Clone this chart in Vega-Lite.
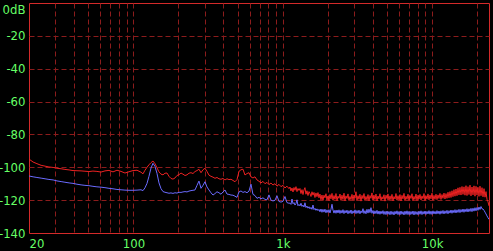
{
  "$schema": "https://vega.github.io/schema/vega-lite/v6.json",
  "width": 460,
  "height": 230,
  "autosize": {"type": "none"},
  "padding": {"left": 29, "top": 3, "right": 4, "bottom": 18},
  "background": "#000000",
  "config": {
    "view": {"stroke": "#d42a2a", "strokeWidth": 1},
    "axis": {
      "domain": false,
      "ticks": false,
      "labelColor": "#66ff66",
      "labelFont": "DejaVu Sans Condensed, sans-serif",
      "labelFontSize": 13,
      "gridColor": "#8c1c1c",
      "gridDash": [5, 3],
      "gridWidth": 1,
      "title": null
    }
  },
  "data": {
    "values": [
      {"f": 20, "r": -95.0, "b": -105.3},
      {"f": 21.3, "r": -96.8, "b": -105.8},
      {"f": 22.6, "r": -97.8, "b": -106.2},
      {"f": 24.1, "r": -98.8, "b": -106.6},
      {"f": 25.6, "r": -99.3, "b": -107.0},
      {"f": 27.2, "r": -99.8, "b": -107.4},
      {"f": 29.0, "r": -100.1, "b": -107.7},
      {"f": 30.8, "r": -100.6, "b": -108.3},
      {"f": 32.8, "r": -100.9, "b": -108.7},
      {"f": 34.8, "r": -101.3, "b": -109.1},
      {"f": 37.1, "r": -101.6, "b": -109.5},
      {"f": 39.4, "r": -102.0, "b": -109.8},
      {"f": 41.9, "r": -102.1, "b": -110.3},
      {"f": 44.6, "r": -102.2, "b": -110.7},
      {"f": 47.4, "r": -102.4, "b": -111.0},
      {"f": 50.4, "r": -102.6, "b": -111.2},
      {"f": 53.6, "r": -102.3, "b": -111.6},
      {"f": 57.0, "r": -102.5, "b": -111.9},
      {"f": 60.7, "r": -102.9, "b": -112.1},
      {"f": 64.5, "r": -102.2, "b": -112.4},
      {"f": 68.6, "r": -101.9, "b": -112.8},
      {"f": 73.0, "r": -102.8, "b": -113.1},
      {"f": 77.6, "r": -101.8, "b": -113.5},
      {"f": 82.6, "r": -102.5, "b": -113.7},
      {"f": 87.8, "r": -103.5, "b": -113.9},
      {"f": 93.4, "r": -102.7, "b": -114.0},
      {"f": 99.4, "r": -102.0, "b": -114.0},
      {"f": 105.7, "r": -101.8, "b": -113.9},
      {"f": 112.4, "r": -103.0, "b": -113.7},
      {"f": 115.9, "r": -104.0, "b": -114.2},
      {"f": 119.5, "r": -101.8, "b": -112.5},
      {"f": 123.3, "r": -100.0, "b": -109.8},
      {"f": 127.1, "r": -98.5, "b": -105.5},
      {"f": 131.1, "r": -97.2, "b": -100.5},
      {"f": 135.2, "r": -96.2, "b": -97.6},
      {"f": 139.5, "r": -97.8, "b": -99.5},
      {"f": 143.8, "r": -100.3, "b": -103.7},
      {"f": 148.3, "r": -102.8, "b": -109.5},
      {"f": 153.0, "r": -104.2, "b": -113.0},
      {"f": 157.8, "r": -104.6, "b": -114.8},
      {"f": 162.7, "r": -103.6, "b": -115.2},
      {"f": 167.8, "r": -103.5, "b": -115.5},
      {"f": 173.0, "r": -105.5, "b": -115.8},
      {"f": 178.5, "r": -106.8, "b": -115.6},
      {"f": 184.0, "r": -107.2, "b": -115.9},
      {"f": 189.8, "r": -106.5, "b": -115.5},
      {"f": 195.7, "r": -105.0, "b": -115.7},
      {"f": 201.9, "r": -104.5, "b": -115.2},
      {"f": 208.2, "r": -103.5, "b": -115.3},
      {"f": 214.7, "r": -104.2, "b": -115.0},
      {"f": 221.4, "r": -105.0, "b": -114.8},
      {"f": 228.4, "r": -104.6, "b": -115.0},
      {"f": 235.5, "r": -103.6, "b": -114.5},
      {"f": 242.9, "r": -103.3, "b": -114.2},
      {"f": 250.5, "r": -103.8, "b": -114.0},
      {"f": 258.3, "r": -102.6, "b": -113.8},
      {"f": 266.4, "r": -102.0, "b": -111.0},
      {"f": 274.7, "r": -101.2, "b": -108.4},
      {"f": 283.4, "r": -103.3, "b": -112.8},
      {"f": 292.2, "r": -101.5, "b": -111.0},
      {"f": 301.3, "r": -100.6, "b": -108.8},
      {"f": 310.8, "r": -102.5, "b": -112.0},
      {"f": 320.5, "r": -104.8, "b": -113.8},
      {"f": 330.5, "r": -105.5, "b": -115.5},
      {"f": 340.9, "r": -106.0, "b": -116.9},
      {"f": 351.6, "r": -106.7, "b": -116.0},
      {"f": 362.6, "r": -106.2, "b": -114.9},
      {"f": 373.9, "r": -107.0, "b": -115.5},
      {"f": 385.6, "r": -107.3, "b": -116.4},
      {"f": 397.7, "r": -106.8, "b": -115.0},
      {"f": 410.1, "r": -107.7, "b": -113.8},
      {"f": 423.0, "r": -107.0, "b": -116.3},
      {"f": 436.2, "r": -107.5, "b": -116.5},
      {"f": 449.9, "r": -107.3, "b": -116.9},
      {"f": 463.9, "r": -108.0, "b": -117.0},
      {"f": 478.5, "r": -108.8, "b": -117.6},
      {"f": 493.5, "r": -107.5, "b": -118.3},
      {"f": 508.9, "r": -102.5, "b": -115.0},
      {"f": 524.8, "r": -101.5, "b": -114.4},
      {"f": 541.3, "r": -101.2, "b": -115.3},
      {"f": 558.2, "r": -104.7, "b": -114.8},
      {"f": 575.7, "r": -103.8, "b": -115.5},
      {"f": 593.7, "r": -103.3, "b": -114.5},
      {"f": 612.3, "r": -105.8, "b": -110.3},
      {"f": 631.4, "r": -106.5, "b": -116.5},
      {"f": 651.2, "r": -105.8, "b": -117.2},
      {"f": 671.6, "r": -107.7, "b": -118.9},
      {"f": 692.6, "r": -108.5, "b": -118.3},
      {"f": 714.3, "r": -109.5, "b": -119.2},
      {"f": 736.6, "r": -108.6, "b": -118.6},
      {"f": 759.7, "r": -110.0, "b": -119.5},
      {"f": 783.5, "r": -109.2, "b": -119.8},
      {"f": 808.0, "r": -110.5, "b": -116.8},
      {"f": 833.3, "r": -109.6, "b": -120.0},
      {"f": 859.4, "r": -110.8, "b": -120.5},
      {"f": 886.3, "r": -110.0, "b": -120.1},
      {"f": 914.2, "r": -111.5, "b": -117.3},
      {"f": 942.6, "r": -110.4, "b": -120.8},
      {"f": 972.1, "r": -111.8, "b": -121.2},
      {"f": 1002.6, "r": -111.0, "b": -120.7},
      {"f": 1034, "r": -112.6, "b": -117.8},
      {"f": 1066, "r": -111.5, "b": -121.5},
      {"f": 1100, "r": -113.0, "b": -121.9},
      {"f": 1117, "r": -112.0, "b": -121.8},
      {"f": 1134, "r": -114.4, "b": -122.6},
      {"f": 1152, "r": -112.6, "b": -119.3},
      {"f": 1170, "r": -115.0, "b": -122.2},
      {"f": 1188, "r": -112.3, "b": -121.5},
      {"f": 1206, "r": -114.0, "b": -123.0},
      {"f": 1225, "r": -111.8, "b": -122.1},
      {"f": 1244, "r": -114.8, "b": -119.8},
      {"f": 1263, "r": -112.9, "b": -123.4},
      {"f": 1283, "r": -114.1, "b": -122.6},
      {"f": 1303, "r": -112.9, "b": -123.5},
      {"f": 1323, "r": -116.0, "b": -121.9},
      {"f": 1344, "r": -113.6, "b": -123.8},
      {"f": 1365, "r": -116.6, "b": -123.0},
      {"f": 1386, "r": -113.8, "b": -124.2},
      {"f": 1407, "r": -112.4, "b": -121.6},
      {"f": 1429, "r": -116.4, "b": -124.5},
      {"f": 1451, "r": -114.3, "b": -123.6},
      {"f": 1474, "r": -117.2, "b": -124.9},
      {"f": 1497, "r": -114.8, "b": -124.0},
      {"f": 1520, "r": -116.0, "b": -125.3},
      {"f": 1544, "r": -117.8, "b": -124.4},
      {"f": 1568, "r": -114.9, "b": -125.6},
      {"f": 1592, "r": -117.0, "b": -123.0},
      {"f": 1617, "r": -115.3, "b": -125.8},
      {"f": 1642, "r": -118.4, "b": -125.0},
      {"f": 1667, "r": -115.6, "b": -126.2},
      {"f": 1693, "r": -117.9, "b": -125.3},
      {"f": 1719, "r": -115.4, "b": -126.4},
      {"f": 1746, "r": -118.6, "b": -125.6},
      {"f": 1773, "r": -116.3, "b": -127.1},
      {"f": 1801, "r": -119.8, "b": -125.4},
      {"f": 1829, "r": -116.9, "b": -127.4},
      {"f": 1857, "r": -120.2, "b": -125.6},
      {"f": 1886, "r": -117.0, "b": -127.3},
      {"f": 1915, "r": -118.6, "b": -125.5},
      {"f": 1945, "r": -116.1, "b": -127.7},
      {"f": 1975, "r": -119.9, "b": -125.9},
      {"f": 2006, "r": -117.5, "b": -127.5},
      {"f": 2037, "r": -120.3, "b": -125.8},
      {"f": 2069, "r": -116.6, "b": -127.8},
      {"f": 2101, "r": -119.2, "b": -125.6},
      {"f": 2134, "r": -115.9, "b": -122.5},
      {"f": 2167, "r": -120.0, "b": -126.0},
      {"f": 2201, "r": -117.2, "b": -127.9},
      {"f": 2235, "r": -119.5, "b": -126.1},
      {"f": 2270, "r": -116.0, "b": -128.0},
      {"f": 2305, "r": -120.4, "b": -126.0},
      {"f": 2341, "r": -117.6, "b": -127.8},
      {"f": 2377, "r": -118.9, "b": -125.9},
      {"f": 2414, "r": -116.3, "b": -128.1},
      {"f": 2451, "r": -120.1, "b": -126.2},
      {"f": 2489, "r": -117.0, "b": -127.9},
      {"f": 2528, "r": -119.6, "b": -125.8},
      {"f": 2567, "r": -115.8, "b": -128.2},
      {"f": 2607, "r": -120.5, "b": -126.3},
      {"f": 2647, "r": -117.4, "b": -127.8},
      {"f": 2689, "r": -119.0, "b": -126.1},
      {"f": 2731, "r": -116.2, "b": -128.3},
      {"f": 2773, "r": -120.2, "b": -126.4},
      {"f": 2816, "r": -117.8, "b": -128.0},
      {"f": 2860, "r": -119.7, "b": -126.0},
      {"f": 2904, "r": -116.5, "b": -128.3},
      {"f": 2949, "r": -120.0, "b": -126.5},
      {"f": 2995, "r": -116.9, "b": -127.9},
      {"f": 3042, "r": -118.8, "b": -125.9},
      {"f": 3089, "r": -114.9, "b": -128.2},
      {"f": 3137, "r": -120.3, "b": -126.3},
      {"f": 3186, "r": -117.3, "b": -128.0},
      {"f": 3235, "r": -119.5, "b": -126.1},
      {"f": 3285, "r": -116.4, "b": -128.3},
      {"f": 3336, "r": -120.6, "b": -126.5},
      {"f": 3388, "r": -117.1, "b": -127.7},
      {"f": 3441, "r": -119.1, "b": -125.2},
      {"f": 3494, "r": -116.0, "b": -128.1},
      {"f": 3548, "r": -120.2, "b": -126.4},
      {"f": 3603, "r": -117.7, "b": -128.3},
      {"f": 3660, "r": -119.8, "b": -125.6},
      {"f": 3717, "r": -116.6, "b": -127.9},
      {"f": 3774, "r": -120.4, "b": -125.5},
      {"f": 3833, "r": -117.2, "b": -127.6},
      {"f": 3892, "r": -118.9, "b": -124.6},
      {"f": 3952, "r": -115.6, "b": -128.0},
      {"f": 4014, "r": -120.1, "b": -126.3},
      {"f": 4076, "r": -117.0, "b": -128.4},
      {"f": 4140, "r": -119.6, "b": -126.5},
      {"f": 4204, "r": -116.3, "b": -128.2},
      {"f": 4270, "r": -120.5, "b": -126.2},
      {"f": 4336, "r": -117.5, "b": -128.5},
      {"f": 4403, "r": -119.2, "b": -126.6},
      {"f": 4471, "r": -116.1, "b": -128.6},
      {"f": 4541, "r": -120.3, "b": -126.7},
      {"f": 4611, "r": -117.9, "b": -128.3},
      {"f": 4683, "r": -119.4, "b": -126.4},
      {"f": 4756, "r": -116.7, "b": -128.7},
      {"f": 4830, "r": -120.6, "b": -126.8},
      {"f": 4905, "r": -117.0, "b": -128.8},
      {"f": 4981, "r": -119.0, "b": -126.6},
      {"f": 5058, "r": -116.2, "b": -128.6},
      {"f": 5137, "r": -120.2, "b": -126.9},
      {"f": 5217, "r": -117.4, "b": -128.9},
      {"f": 5298, "r": -119.7, "b": -126.7},
      {"f": 5380, "r": -116.5, "b": -128.7},
      {"f": 5464, "r": -120.4, "b": -127.0},
      {"f": 5549, "r": -117.8, "b": -129.0},
      {"f": 5635, "r": -119.3, "b": -126.8},
      {"f": 5722, "r": -116.0, "b": -128.5},
      {"f": 5811, "r": -120.0, "b": -126.5},
      {"f": 5902, "r": -117.3, "b": -128.8},
      {"f": 5993, "r": -119.8, "b": -126.9},
      {"f": 6086, "r": -116.6, "b": -128.9},
      {"f": 6181, "r": -120.5, "b": -126.6},
      {"f": 6277, "r": -117.1, "b": -128.6},
      {"f": 6374, "r": -119.2, "b": -127.0},
      {"f": 6473, "r": -115.9, "b": -129.0},
      {"f": 6574, "r": -120.3, "b": -126.7},
      {"f": 6676, "r": -117.6, "b": -128.7},
      {"f": 6780, "r": -119.5, "b": -126.5},
      {"f": 6885, "r": -116.4, "b": -128.8},
      {"f": 6992, "r": -120.1, "b": -126.8},
      {"f": 7101, "r": -117.2, "b": -128.9},
      {"f": 7211, "r": -119.0, "b": -126.9},
      {"f": 7323, "r": -116.1, "b": -128.6},
      {"f": 7437, "r": -120.4, "b": -126.6},
      {"f": 7553, "r": -117.7, "b": -129.0},
      {"f": 7670, "r": -119.6, "b": -126.8},
      {"f": 7789, "r": -116.3, "b": -128.7},
      {"f": 7910, "r": -120.2, "b": -127.0},
      {"f": 8033, "r": -117.0, "b": -128.9},
      {"f": 8158, "r": -119.3, "b": -126.7},
      {"f": 8285, "r": -116.5, "b": -128.6},
      {"f": 8413, "r": -119.9, "b": -126.5},
      {"f": 8544, "r": -117.4, "b": -128.8},
      {"f": 8677, "r": -119.1, "b": -126.9},
      {"f": 8812, "r": -116.0, "b": -128.5},
      {"f": 8948, "r": -120.3, "b": -126.6},
      {"f": 9087, "r": -117.3, "b": -128.7},
      {"f": 9229, "r": -119.4, "b": -126.8},
      {"f": 9372, "r": -116.2, "b": -128.4},
      {"f": 9518, "r": -119.8, "b": -126.4},
      {"f": 9666, "r": -116.9, "b": -128.6},
      {"f": 9816, "r": -119.2, "b": -126.7},
      {"f": 9968, "r": -115.8, "b": -128.7},
      {"f": 10123, "r": -120.0, "b": -126.5},
      {"f": 10280, "r": -117.1, "b": -128.4},
      {"f": 10440, "r": -119.5, "b": -126.8},
      {"f": 10602, "r": -116.4, "b": -128.5},
      {"f": 10767, "r": -119.7, "b": -126.4},
      {"f": 10934, "r": -116.8, "b": -128.3},
      {"f": 11104, "r": -119.0, "b": -126.6},
      {"f": 11277, "r": -115.9, "b": -128.6},
      {"f": 11452, "r": -119.6, "b": -126.5},
      {"f": 11630, "r": -116.6, "b": -128.2},
      {"f": 11810, "r": -118.9, "b": -126.3},
      {"f": 11993, "r": -115.7, "b": -128.4},
      {"f": 12180, "r": -119.3, "b": -126.5},
      {"f": 12369, "r": -116.0, "b": -128.1},
      {"f": 12561, "r": -118.9, "b": -126.2},
      {"f": 12756, "r": -115.2, "b": -128.3},
      {"f": 12955, "r": -118.6, "b": -126.4},
      {"f": 13156, "r": -114.8, "b": -127.9},
      {"f": 13360, "r": -118.4, "b": -126.0},
      {"f": 13567, "r": -114.3, "b": -128.0},
      {"f": 13779, "r": -117.9, "b": -126.1},
      {"f": 13993, "r": -113.6, "b": -127.7},
      {"f": 14210, "r": -117.6, "b": -125.8},
      {"f": 14431, "r": -113.2, "b": -127.8},
      {"f": 14655, "r": -117.3, "b": -125.9},
      {"f": 14882, "r": -112.5, "b": -127.5},
      {"f": 15114, "r": -116.8, "b": -125.6},
      {"f": 15349, "r": -112.2, "b": -127.6},
      {"f": 15587, "r": -116.9, "b": -125.7},
      {"f": 15829, "r": -111.7, "b": -127.3},
      {"f": 16075, "r": -116.5, "b": -125.4},
      {"f": 16325, "r": -111.9, "b": -127.4},
      {"f": 16578, "r": -117.0, "b": -125.5},
      {"f": 16836, "r": -111.2, "b": -127.1},
      {"f": 17097, "r": -117.2, "b": -125.2},
      {"f": 17363, "r": -111.8, "b": -127.2},
      {"f": 17633, "r": -116.6, "b": -125.3},
      {"f": 17907, "r": -110.9, "b": -126.9},
      {"f": 18185, "r": -117.4, "b": -125.0},
      {"f": 18467, "r": -112.0, "b": -127.0},
      {"f": 18754, "r": -116.8, "b": -124.9},
      {"f": 19045, "r": -111.3, "b": -126.7},
      {"f": 19341, "r": -117.6, "b": -124.6},
      {"f": 19642, "r": -111.6, "b": -126.5},
      {"f": 19947, "r": -116.9, "b": -124.5},
      {"f": 20257, "r": -112.2, "b": -126.2},
      {"f": 20571, "r": -117.7, "b": -124.2},
      {"f": 20891, "r": -111.5, "b": -125.7},
      {"f": 21215, "r": -117.3, "b": -123.9},
      {"f": 21545, "r": -112.4, "b": -125.3},
      {"f": 21880, "r": -118.0, "b": -125.4},
      {"f": 22220, "r": -113.0, "b": -126.2},
      {"f": 22565, "r": -118.2, "b": -127.3},
      {"f": 22915, "r": -114.8, "b": -128.4},
      {"f": 23271, "r": -119.5, "b": -129.6},
      {"f": 23632, "r": -121.0, "b": -130.7},
      {"f": 24000, "r": -123.5, "b": -131.7}
    ]
  },
  "transform": [{"fold": ["r", "b"], "as": ["s", "v"]}],
  "mark": {"type": "line", "strokeWidth": 1, "clip": true},
  "encoding": {
    "x": {
      "field": "f",
      "type": "quantitative",
      "scale": {"type": "log", "domain": [20, 24000], "nice": false, "zero": false},
      "axis": {
        "values": [20, 30, 40, 50, 60, 70, 80, 90, 100, 200, 300, 400, 500, 600, 700, 800, 900, 1000, 2000, 3000, 4000, 5000, 6000, 7000, 8000, 9000, 10000, 20000],
        "labelExpr": "datum.value == 20 ? '20' : datum.value == 100 ? '100' : datum.value == 1000 ? '1k' : datum.value == 10000 ? '10k' : ''",
        "labelOverlap": false,
        "labelPadding": 4,
        "labelBaseline": "top",
        "labelAlign": {"condition": {"test": "datum.value == 20", "value": "left"}, "value": "center"},
        "gridOpacity": {"condition": {"test": "datum.value == 20", "value": 0}, "value": 1},
        "title": null
      }
    },
    "y": {
      "field": "v",
      "type": "quantitative",
      "scale": {"domain": [-140, 0], "nice": false, "zero": false},
      "axis": {
        "values": [0, -20, -40, -60, -80, -100, -120, -140],
        "labelExpr": "datum.value == 0 ? '0dB' : '' + datum.value",
        "labelPadding": 4,
        "labelOverlap": false,
        "labelBaseline": {"condition": {"test": "datum.value == 0", "value": "top"}, "value": "middle"},
        "gridOpacity": {"condition": {"test": "datum.value == 0 || datum.value == -140", "value": 0}, "value": 1},
        "title": null
      }
    },
    "color": {
      "field": "s",
      "type": "nominal",
      "scale": {"domain": ["r", "b"], "range": ["#ee2222", "#6b6bff"]},
      "legend": null
    }
  }
}
